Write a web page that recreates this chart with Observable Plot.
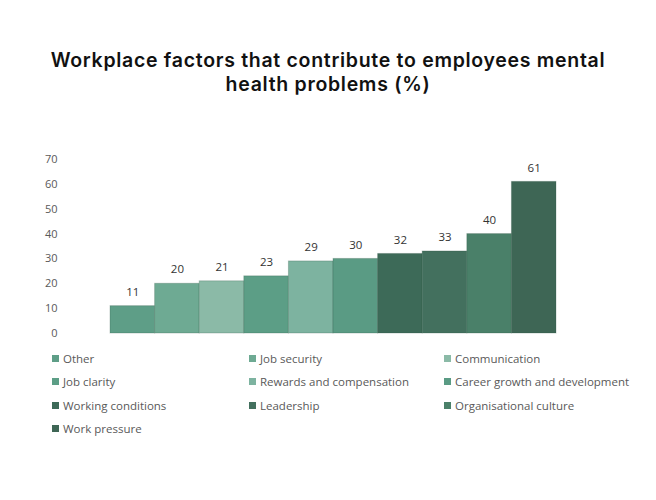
<!DOCTYPE html>
<html>
<head>
<meta charset="utf-8">
<script src="https://cdn.jsdelivr.net/npm/d3@7"></script>
<script src="https://cdn.jsdelivr.net/npm/@observablehq/plot@0.6"></script>
<style>
  html, body { margin: 0; padding: 0; background: #fff; }
  #wrap { width: 656px; height: 500px; position: relative; overflow: hidden; }
  #title { position: absolute; left: 0; top: 48px; width: 656px; text-align: center;
    font-family: Inter, "Noto Sans", sans-serif; font-weight: 600; font-size: 19.5px; line-height: 24px; color: #111; letter-spacing: 0.7px; }
  #chart { position: absolute; left: 0; top: 140px; }
  #legend { position: absolute; left: 52px; top: 347px; display: grid; grid-template-columns: 197px 195px 200px;
    grid-auto-rows: 23.3px; font-family: "Open Sans", sans-serif; font-size: 11.5px; color: #595959; }
  .item { display: flex; align-items: center; white-space: nowrap; }
  .sw { width: 7px; height: 7px; margin-right: 4px; flex: none; }
</style>
</head>
<body>
<div id="wrap">
  <div id="title">Workplace factors that contribute to employees mental<br>health problems (%)</div>
  <div id="chart"></div>
  <div id="legend"></div>
</div>
<script>
const categories = ["Other", "Job security", "Communication", "Job clarity", "Rewards and compensation",
  "Career growth and development", "Working conditions", "Leadership", "Organisational culture", "Work pressure"];
const values = [11, 20, 21, 23, 29, 30, 32, 33, 40, 61];
const colors = ["#5e9e87", "#6eaa93", "#8bbaa7", "#5c9e86", "#7db3a0", "#5a9b84", "#3d6a58", "#43705e", "#4a8069", "#3e6655"];
const yTicks = [0, 10, 20, 30, 40, 50, 60, 70];

const data = categories.map((c, i) => ({category: c, value: values[i]}));

const chart = Plot.plot({
  width: 656,
  height: 205,
  marginTop: 19,
  marginBottom: 12,
  marginLeft: 110,
  marginRight: 100,
  style: {fontFamily: "'Open Sans', sans-serif", fontSize: "11px", color: "#595959", background: "transparent"},
  x: {domain: categories, padding: 0, round: false, axis: null},
  y: {domain: [0, 70], ticks: yTicks, tickSize: 0, tickPadding: 53, label: null},
  color: {domain: categories, range: colors},
  marks: [
    Plot.barY(data, {x: "category", y: "value", fill: "category", stroke: "#2c4e40", strokeOpacity: 0.25, strokeWidth: 1}),
    Plot.text(data, {x: "category", y: "value", text: d => String(d.value), dy: -14,
      fill: "#333", fontSize: 11.5, fontFamily: "'Open Sans', sans-serif"})
  ]
});
document.getElementById("chart").appendChild(chart);

const legend = document.getElementById("legend");
categories.forEach((c, i) => {
  const it = document.createElement("div");
  it.className = "item";
  const sw = document.createElement("span");
  sw.className = "sw";
  sw.style.background = colors[i];
  it.appendChild(sw);
  it.appendChild(document.createTextNode(c));
  legend.appendChild(it);
});
</script>
</body>
</html>
